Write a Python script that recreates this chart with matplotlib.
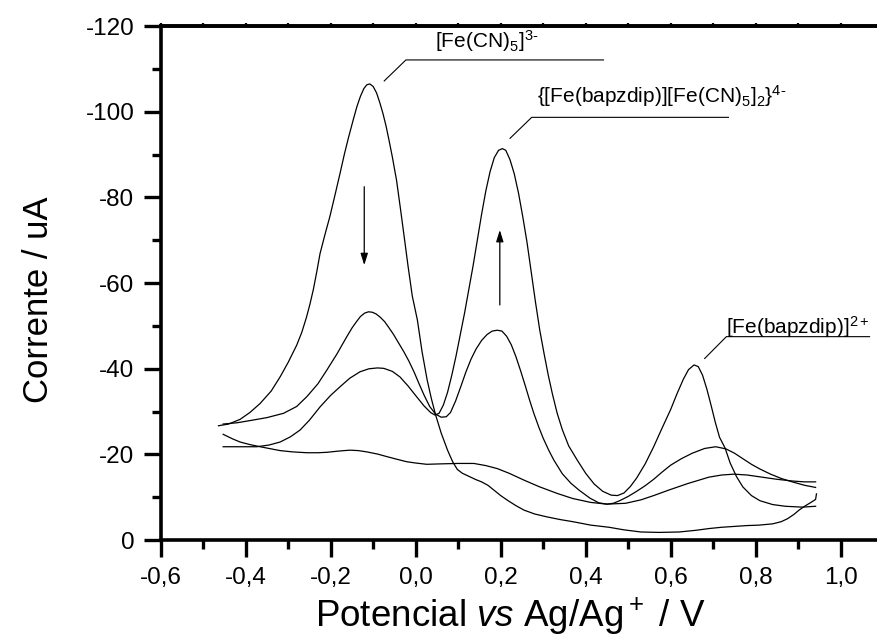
"""Voltamograma: picos de [Fe(CN)5]3-, do binuclear e de [Fe(bapzdip)]2+."""

import matplotlib

matplotlib.use("Agg")
import matplotlib.pyplot as plt
from matplotlib.ticker import FixedLocator, FuncFormatter, MultipleLocator

plt.rcParams["font.family"] = ["Liberation Sans", "DejaVu Sans"]
plt.rcParams["mathtext.fontset"] = "custom"
plt.rcParams["mathtext.rm"] = "Liberation Sans"
plt.rcParams["mathtext.it"] = "Liberation Sans:italic"
plt.rcParams["axes.unicode_minus"] = False

# ciclo 1: pico grande do [Fe(CN)5]3-
v_scan1 = [-0.464, -0.44, -0.413, -0.39, -0.366, -0.34, -0.319, -0.30, -0.28,
           -0.268, -0.257, -0.249, -0.241, -0.233, -0.225, -0.213, -0.202,
           -0.19, -0.178, -0.168, -0.158, -0.147, -0.138, -0.13, -0.122,
           -0.115, -0.108, -0.10, -0.092, -0.084, -0.077, -0.07, -0.063,
           -0.055, -0.045, -0.036, -0.027, -0.018, -0.008, 0.004, 0.015,
           0.027, 0.037, 0.047, 0.06, 0.075, 0.087, 0.098, 0.11, 0.125, 0.14,
           0.155, 0.17, 0.185, 0.20, 0.216, 0.235, 0.255, 0.28, 0.31, 0.34,
           0.37, 0.412, 0.455, 0.49, 0.53, 0.573, 0.62, 0.66, 0.69, 0.72,
           0.75, 0.78, 0.808, 0.84, 0.86, 0.875, 0.89, 0.902, 0.915, 0.93,
           0.941, 0.943]
i_scan1 = [-26.7, -27.1, -28.2, -29.8, -31.9, -34.8, -38.1, -41.5, -45.5,
           -48.5, -52.0, -55.0, -58.4, -62.5, -66.9, -71.5, -75.5,
           -80.5, -85.6, -90.0, -94.0, -98.1, -101.3, -103.6, -105.4,
           -106.3, -106.5, -105.9, -104.4, -102.0, -99.6, -96.8, -93.5,
           -89.5, -84.0, -77.5, -70.8, -64.0, -57.0, -51.4, -44.0,
           -37.4, -33.0, -29.2, -25.0, -21.0, -18.3, -16.5, -15.6, -14.9, -14.2,
           -13.6, -12.8, -11.6, -10.4, -9.3, -8.1, -7.0, -6.1, -5.4, -4.8,
           -4.3, -3.5, -3.0, -2.4, -1.9, -1.8, -1.9, -2.3, -2.7, -3.0,
           -3.2, -3.4, -3.5, -3.8, -4.3, -5.0, -6.0, -7.0, -7.9, -8.8,
           -9.5, -10.8]

# ciclo 2
v_scan2 = [-0.453, -0.42, -0.39, -0.35, -0.311, -0.28, -0.256, -0.23, -0.209,
           -0.197, -0.185, -0.173, -0.162, -0.15, -0.14, -0.13, -0.12, -0.111,
           -0.102, -0.093, -0.083, -0.073, -0.063, -0.052, -0.04, -0.028,
           -0.016, -0.004, 0.008, 0.02, 0.033, 0.047, 0.06, 0.072, 0.082,
           0.094, 0.106, 0.118, 0.13, 0.142, 0.155, 0.168, 0.18, 0.192, 0.203,
           0.214, 0.225, 0.236, 0.247, 0.258, 0.268, 0.278, 0.29, 0.30, 0.313,
           0.325, 0.345, 0.365, 0.384, 0.41, 0.431, 0.45, 0.465, 0.48, 0.50,
           0.52, 0.54, 0.56, 0.58, 0.60, 0.625, 0.651, 0.68, 0.706, 0.73,
           0.75, 0.77, 0.79, 0.81, 0.835, 0.86, 0.886, 0.915, 0.941]
i_scan2 = [-27.1, -27.4, -27.9, -28.6, -29.6, -31.2, -33.5, -36.5, -39.7,
           -41.6, -43.5, -45.6, -47.5, -49.5, -50.9, -52.2, -53.0, -53.3,
           -53.2, -52.8, -52.0, -51.0, -49.6, -48.0, -46.0, -44.0,
           -41.8, -39.3, -36.5, -33.8, -31.2, -29.4, -28.7, -28.8, -29.8,
           -32.5, -35.8, -39.2, -42.2, -44.6, -46.6, -48.0, -48.8, -49.0, -48.8,
           -47.6, -45.6, -42.8, -39.5, -36.0, -32.7, -29.6, -26.3, -23.8, -21.0,
           -18.7, -15.5, -13.3, -11.7, -9.8, -8.7, -8.4, -8.6, -9.2, -10.2,
           -11.4, -12.7, -14.2, -15.9, -17.5, -19.0, -20.3, -21.4, -21.8, -21.3,
           -20.3, -19.0, -17.7, -16.6, -15.4, -14.4, -13.6, -12.8, -12.3]

# ciclo 3: pico grande do binuclear
v_scan3 = [-0.453, -0.42, -0.374, -0.345, -0.319, -0.295, -0.272, -0.25,
           -0.225, -0.20, -0.178, -0.155, -0.131, -0.11, -0.09, -0.075, -0.055,
           -0.037, -0.018, 0.002, 0.02, 0.035, 0.045, 0.055, 0.065, 0.075,
           0.085, 0.095, 0.105, 0.115, 0.125, 0.135, 0.145, 0.155, 0.165,
           0.175, 0.185, 0.195, 0.204, 0.212, 0.222, 0.232, 0.242, 0.252,
           0.262, 0.272, 0.282, 0.292, 0.302, 0.312, 0.322, 0.333, 0.345, 0.36,
           0.38, 0.40, 0.42, 0.44, 0.46, 0.475, 0.49, 0.505, 0.52, 0.54, 0.56,
           0.58, 0.60, 0.615, 0.63, 0.642, 0.655, 0.665, 0.675, 0.685, 0.695,
           0.705, 0.715, 0.728, 0.74, 0.755, 0.77, 0.79, 0.81, 0.84, 0.87,
           0.91, 0.941]
i_scan3 = [-21.8, -21.8, -21.8, -22.2, -22.9, -24.1, -25.7, -28.0,
           -31.1, -33.8, -35.8, -37.8, -39.3, -40.0, -40.2, -40.1, -39.4,
           -38.1, -36.0, -33.5, -31.3, -29.8, -29.2, -29.6, -31.5, -34.5,
           -38.5, -43.0, -48.0, -53.0, -58.5, -64.0, -70.0, -76.0, -81.5,
           -86.0, -89.3, -91.0, -91.4, -91.0, -88.8, -85.5, -81.0, -75.5,
           -69.5, -62.5, -55.5, -49.0, -43.6, -38.5, -34.0, -29.6, -25.8, -22.0,
           -18.7, -15.6, -13.1, -11.4, -10.5, -10.4, -11.0, -12.5, -14.5, -17.8, -21.8,
           -26.2, -30.5, -34.2, -37.6, -39.8, -40.9, -40.5, -38.5, -35.3, -31.5,
           -27.5, -24.0, -21.5, -18.0, -14.8, -12.4, -10.4, -9.2, -8.3, -7.9,
           -7.7, -7.9]

# linha de base
v_scan4 = [-0.453, -0.43, -0.413, -0.39, -0.366, -0.34, -0.319, -0.29, -0.256,
           -0.23, -0.209, -0.18, -0.155, -0.135, -0.115, -0.09, -0.068, -0.045,
           -0.021, 0.0, 0.026, 0.059, 0.10, 0.137, 0.165, 0.192, 0.22, 0.255,
           0.29, 0.333, 0.37, 0.412, 0.45, 0.494, 0.53, 0.56, 0.596, 0.64,
           0.67, 0.69, 0.72, 0.749, 0.78, 0.808, 0.85, 0.886, 0.915, 0.941]
i_scan4 = [-24.7, -23.6, -22.9, -22.3, -21.8, -21.3, -20.9, -20.6, -20.4,
           -20.4, -20.5, -20.8, -21.0, -20.9, -20.6, -20.1, -19.5, -18.9,
           -18.3, -18.0, -17.7, -17.8, -17.9, -17.9, -17.4, -16.7, -15.6, -14.0,
           -12.5, -10.9, -9.7, -8.8, -8.4, -8.6, -9.4, -10.4, -11.7, -13.2,
           -14.1, -14.7, -15.2, -15.4, -15.2, -14.8, -14.2, -13.8, -13.6, -13.6]

x_ticks = [-0.6, -0.4, -0.2, 0.0, 0.2, 0.4, 0.6, 0.8, 1.0]
y_ticks = [0, -20, -40, -60, -80, -100, -120]

peak_labels = [
    r"[Fe(CN)$_5$]$^{3\text{-}}$",
    r"{[Fe(bapzdip)][Fe(CN)$_5$]$_2$}$^{4\text{-}}$",
    r"[Fe(bapzdip)]$^{2+}$",
]
label_pos = [(0.045, -114.9), (0.285, -102.2), (0.731, -48.2)]
leader_x = [[-0.074, -0.023, 0.442], [0.222, 0.273, 0.736], [0.680, 0.731, 1.068]]
leader_y = [[-107.2, -112.1, -112.1], [-93.8, -98.7, -98.7], [-42.4, -47.5, -47.5]]

# setas: (x, início, fim)
arrows = [(-0.121, -82.5, -64.2), (0.198, -54.9, -72.4)]

fig = plt.figure(figsize=(8.78, 6.43), dpi=100)
ax = fig.add_axes([0.183, 0.160, 0.8713, 0.7994])

for v, i in [(v_scan1, i_scan1), (v_scan2, i_scan2),
             (v_scan3, i_scan3), (v_scan4, i_scan4)]:
    ax.plot(v, i, color="black", lw=0.9, solid_joinstyle="round")

for text, (tx, ty), lx, ly in zip(peak_labels, label_pos, leader_x, leader_y):
    ax.plot(lx, ly, color="black", lw=0.8)
    ax.text(tx, ty, text, fontsize=15, ha="left", va="baseline")

for x, y0, y1 in arrows:
    ax.annotate("", xy=(x, y1), xytext=(x, y0),
                arrowprops=dict(arrowstyle="-|>,head_length=0.7,head_width=0.22",
                                color="black", lw=0.9, shrinkA=0, shrinkB=0))

ax.set_xlim(-0.6, 1.2)
ax.set_ylim(0, -120)

ax.xaxis.set_major_locator(FixedLocator(x_ticks))
ax.xaxis.set_minor_locator(MultipleLocator(0.1))
ax.xaxis.set_major_formatter(
    FuncFormatter(lambda v, _: f"{v:.1f}".replace(".", ",").replace("-0,0", "0,0")))
ax.yaxis.set_major_locator(FixedLocator(y_ticks))
ax.yaxis.set_minor_locator(MultipleLocator(10))
ax.yaxis.set_major_formatter(FuncFormatter(lambda v, _: f"{v:.0f}"))

for side in ("left", "bottom", "top"):
    ax.spines[side].set_linewidth(2.6)
ax.spines["right"].set_visible(False)

ax.tick_params(which="major", direction="out", length=12, width=2.4,
               labelsize=17.5, pad=7)
ax.tick_params(which="minor", direction="out", length=6.5, width=2.4)

top = ax.secondary_xaxis("top")
top.xaxis.set_major_locator(MultipleLocator(0.1))
top.tick_params(which="major", direction="out", length=2.5, width=1.6,
                labeltop=False)
top.xaxis.set_minor_locator(FixedLocator([]))
top.spines["top"].set_linewidth(2.6)

ax.set_xlabel("Potencial $vs$ Ag/Ag$^+$ / V", fontsize=26.5)
ax.set_ylabel("Corrente / uA", fontsize=25)
ax.xaxis.set_label_coords(0.4566, -0.108)
ax.yaxis.set_label_coords(-0.138, 0.467)

fig.savefig("out.png", dpi=100)
